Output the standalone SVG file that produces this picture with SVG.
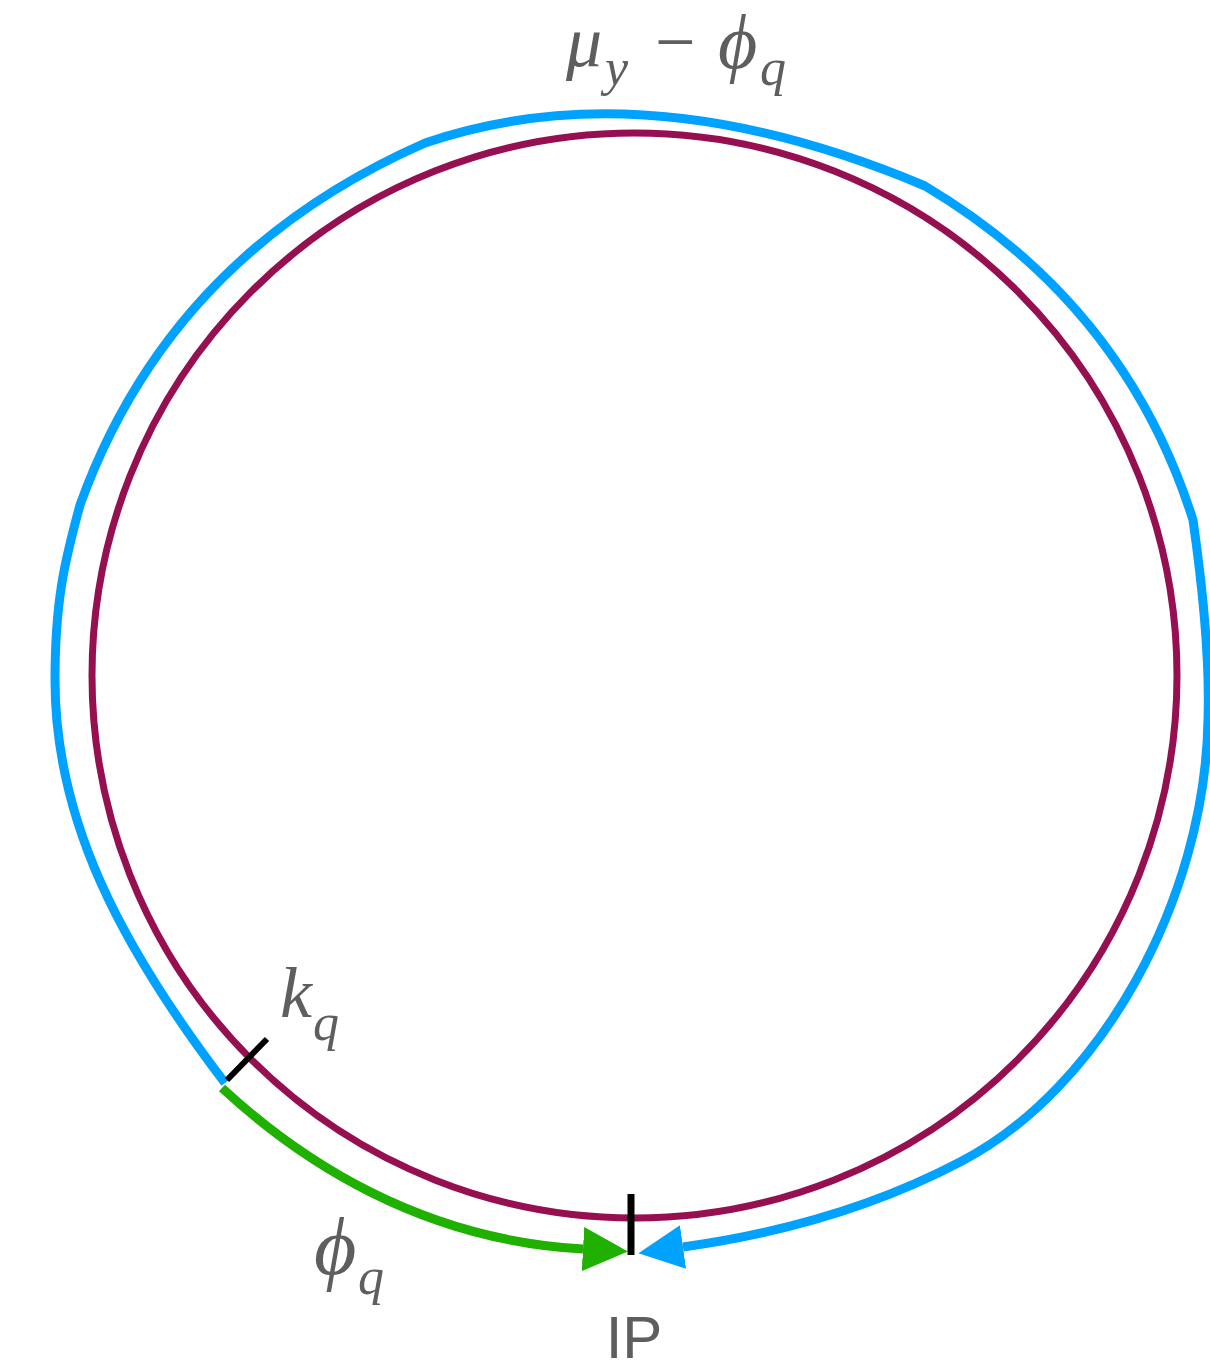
<svg xmlns="http://www.w3.org/2000/svg" width="1210" height="1372" viewBox="0 0 1210 1372">
<style>
.lbl{font-family:"Liberation Serif","Times New Roman",serif;font-style:italic;fill:#5e5e5e}
.up{font-family:"Liberation Serif","Times New Roman",serif;fill:#5e5e5e}
.sans{font-family:"Liberation Sans",Arial,sans-serif;fill:#5e5e5e}
</style>
<defs>
<marker id="ag" markerUnits="userSpaceOnUse" markerWidth="50" markerHeight="50" refX="0" refY="22" orient="auto"><path d="M0,0 L45,22 L0,44 Z" fill="#1fb000"/></marker>
<marker id="ab" markerUnits="userSpaceOnUse" markerWidth="50" markerHeight="50" refX="0" refY="22" orient="auto"><path d="M0,0 L45,22 L0,44 Z" fill="#00a2ff"/></marker>
</defs>
<rect width="1210" height="1372" fill="#ffffff"/>
<g id="ring">
<circle cx="634.5" cy="675.5" r="542.5" fill="none" stroke="#960f50" stroke-width="7"/>
</g>
<g id="connectors">
<path id="blue-path" d="M225,1083 C120,945 55,820 55,680 C55,600 65,560 80,505 Q170,255 425,143 Q645,68 925,186 Q1125,305 1193,520 C1203,590 1210,660 1208,720 C1205,900 1100,1090 960,1162 Q840,1225 683,1247" fill="none" stroke="#00a2ff" stroke-width="9" marker-end="url(#ab)"/>
<path id="green-path" d="M222,1088 C300,1160 420,1240 583,1249" fill="none" stroke="#1fb000" stroke-width="9" marker-end="url(#ag)"/>
</g>
<g id="tick-kq">
<line x1="227" y1="1080" x2="267" y2="1039" stroke="#000" stroke-width="6"/>
</g>
<g id="tick-ip">
<line x1="631" y1="1194" x2="631" y2="1255" stroke="#000" stroke-width="7"/>
</g>
<g id="label-top">
<text class="lbl" y="66" font-size="72"><tspan x="566">μ</tspan><tspan x="605" y="85" font-size="52">y</tspan><tspan class="up" x="655" y="66" font-size="72" style="font-style:normal">−</tspan><tspan x="718" y="68" font-size="76">ϕ</tspan><tspan x="760" y="85" font-size="52">q</tspan></text>
</g>
<g id="label-kq">
<text class="lbl" y="1017" font-size="72"><tspan x="280">k</tspan><tspan x="313" y="1040" font-size="52">q</tspan></text>
</g>
<g id="label-phiq">
<text class="lbl" y="1274" font-size="82"><tspan x="314">ϕ</tspan><tspan x="358" y="1294" font-size="52">q</tspan></text>
</g>
<g id="label-ip">
<text class="sans" x="634" y="1358" font-size="60" text-anchor="middle">IP</text>
</g>
</svg>
